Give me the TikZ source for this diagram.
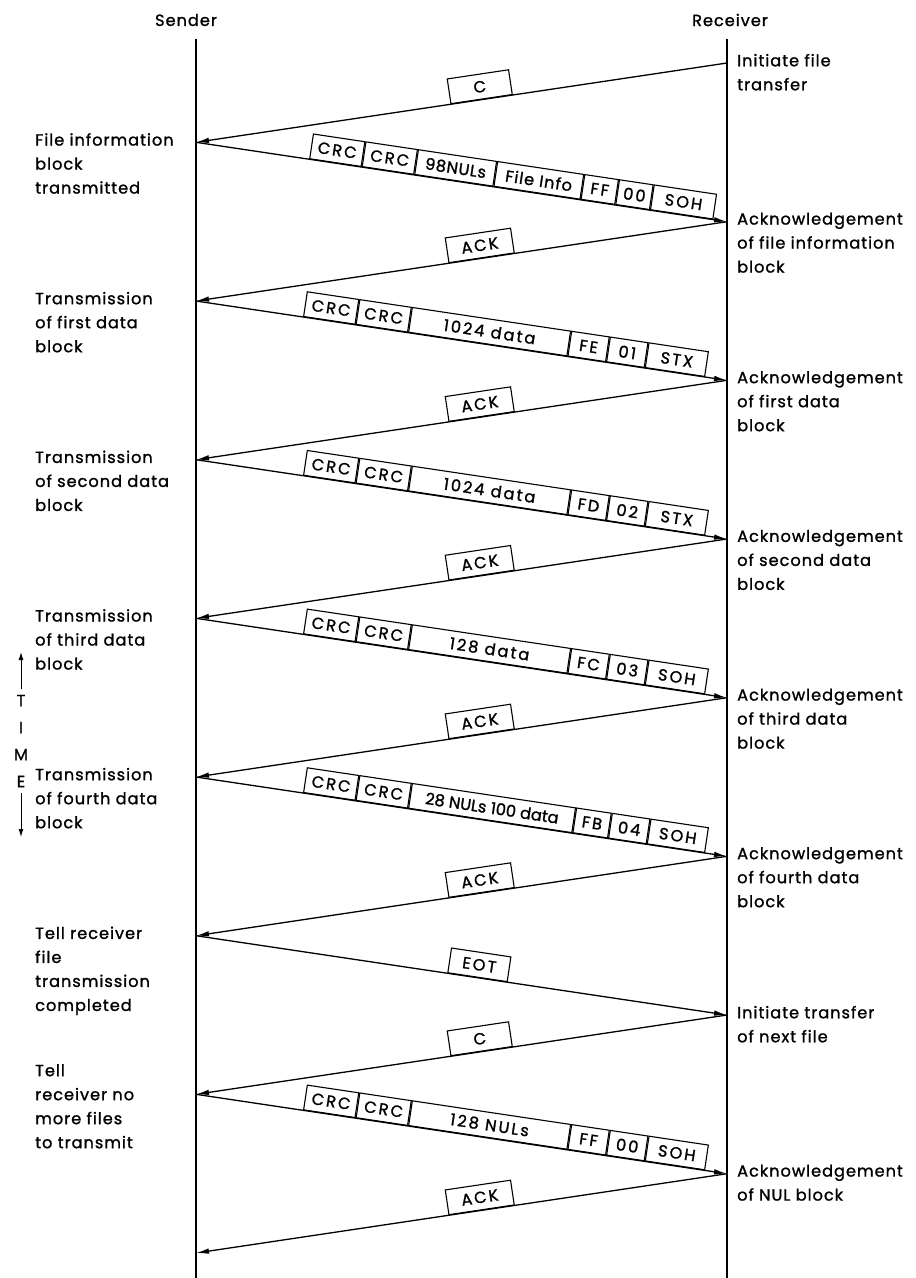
\documentclass[tikz,border=0pt]{standalone}
\usepackage{fontspec}
\setmainfont{Poppins}[LetterSpace=6, FakeBold=1.2]
\usetikzlibrary{arrows.meta,positioning}

\newcommand\notefont{\fontsize{16.2}{24}\selectfont}
\newcommand\fieldfont{\fontsize{16.2}{24}\selectfont\addfontfeature{LetterSpace=13}}
\def\tilt{8.5}

\tikzset{
  lifeline/.style={line width=1.8pt},
  msg/.style={line width=1.3pt, -{Latex[length=13pt,width=5.5pt]}},
  field/.style={draw, line width=1.1pt, minimum height=25pt, inner sep=0pt, font=\fieldfont},
  dfield/.style={field, rotate=-\tilt},
  head/.style={font=\notefont, inner sep=0pt},
  lnote/.style={font=\notefont, align=left, anchor=north west, inner sep=0pt,
    yshift=9.3pt, execute at begin node=\strut},
  rnote/.style={lnote, xshift=10pt},
  tarrow/.style={line width=1pt, -{Latex[length=8pt,width=5pt]}}
}

\begin{document}
\begin{tikzpicture}[x=1pt, y=-1pt]
  \useasboundingbox[fill=white] (0,0) rectangle (916,1278);

  \node[head] (sender) at (186,20) {Sender};
  \node[head] (receiver) at (730,20) {Receiver};

  % time lines
  \coordinate (stop) at (196,39);
  \coordinate (sbot) at (196,1278);
  \coordinate (rtop) at (727,39);
  \coordinate (rbot) at (727,1278);
  \draw[lifeline] (stop) -- (sbot);
  \draw[lifeline] (rtop) -- (rbot);

  % message points, one leg every 79.33
  \coordinate (r0) at (727,63);
  \coordinate (s1) at (196,142.3);
  \coordinate (r1) at (727,221.7);
  \coordinate (s2) at (196,301);
  \coordinate (r2) at (727,380.3);
  \coordinate (s3) at (196,459.7);
  \coordinate (r3) at (727,539);
  \coordinate (s4) at (196,618.3);
  \coordinate (r4) at (727,697.7);
  \coordinate (s5) at (196,777);
  \coordinate (r5) at (727,856.3);
  \coordinate (s6) at (196,935.7);
  \coordinate (r6) at (727,1015);
  \coordinate (s7) at (196,1094.3);
  \coordinate (r7) at (727,1173.7);
  \coordinate (s8) at (196,1253);

  % receiver -> sender
  \draw[msg] (r0) -- (s1) node[field, minimum width=62pt, pos=0.462, sloped, above] (k0) {C};
  \draw[msg] (r1) -- (s2) node[field, minimum width=66pt, pos=0.462, sloped, above] (k1) {ACK};
  \draw[msg] (r2) -- (s3) node[field, minimum width=66pt, pos=0.462, sloped, above] (k2) {ACK};
  \draw[msg] (r3) -- (s4) node[field, minimum width=66pt, pos=0.462, sloped, above] (k3) {ACK};
  \draw[msg] (r4) -- (s5) node[field, minimum width=66pt, pos=0.462, sloped, above] (k4) {ACK};
  \draw[msg] (r5) -- (s6) node[field, minimum width=66pt, pos=0.462, sloped, above] (k5) {ACK};
  \draw[msg] (r6) -- (s7) node[field, minimum width=62pt, pos=0.462, sloped, above] (k6) {C};
  \draw[msg] (r7) -- (s8) node[field, minimum width=66pt, pos=0.462, sloped, above] (k7) {ACK};

  % file information block
  \draw[msg] (s1) -- (r1) node[field, minimum width=52pt, pos=0.213, sloped, anchor=south west] (d1a) {CRC};
  \node[dfield, minimum width=52pt, right=0pt of d1a] (d1b) {CRC};
  \node[dfield, minimum width=79pt, right=0pt of d1b] (d1c) {\addfontfeature{LetterSpace=4}98NULs};
  \node[dfield, minimum width=87pt, right=0pt of d1c] (d1d) {\addfontfeature{LetterSpace=6}File Info};
  \node[dfield, minimum width=34pt, right=0pt of d1d] (d1e) {FF};
  \node[dfield, minimum width=34pt, right=0pt of d1e] (d1f) {00};
  \node[dfield, minimum width=63pt, right=0pt of d1f] (d1g) {SOH};

  % first data block
  \draw[msg] (s2) -- (r2) node[field, minimum width=52pt, pos=0.2015, sloped, anchor=south west] (d2a) {CRC};
  \node[dfield, minimum width=52pt, right=0pt of d2a] (d2b) {CRC};
  \node[dfield, minimum width=160pt, right=0pt of d2b] (d2c) {1024 data};
  \node[dfield, minimum width=38pt, right=0pt of d2c] (d2d) {FE};
  \node[dfield, minimum width=38pt, right=0pt of d2d] (d2e) {01};
  \node[dfield, minimum width=60pt, right=0pt of d2e] (d2f) {STX};

  % second data block
  \draw[msg] (s3) -- (r3) node[field, minimum width=52pt, pos=0.2015, sloped, anchor=south west] (d3a) {CRC};
  \node[dfield, minimum width=52pt, right=0pt of d3a] (d3b) {CRC};
  \node[dfield, minimum width=160pt, right=0pt of d3b] (d3c) {1024 data};
  \node[dfield, minimum width=38pt, right=0pt of d3c] (d3d) {FD};
  \node[dfield, minimum width=38pt, right=0pt of d3d] (d3e) {02};
  \node[dfield, minimum width=60pt, right=0pt of d3e] (d3f) {STX};

  % third data block
  \draw[msg] (s4) -- (r4) node[field, minimum width=52pt, pos=0.2015, sloped, anchor=south west] (d4a) {CRC};
  \node[dfield, minimum width=52pt, right=0pt of d4a] (d4b) {CRC};
  \node[dfield, minimum width=160pt, right=0pt of d4b] (d4c) {128 data};
  \node[dfield, minimum width=38pt, right=0pt of d4c] (d4d) {FC};
  \node[dfield, minimum width=38pt, right=0pt of d4d] (d4e) {03};
  \node[dfield, minimum width=60pt, right=0pt of d4e] (d4f) {SOH};

  % fourth data block
  \draw[msg] (s5) -- (r5) node[field, minimum width=52pt, pos=0.2015, sloped, anchor=south west] (d5a) {CRC};
  \node[dfield, minimum width=52pt, right=0pt of d5a] (d5b) {CRC};
  \node[dfield, minimum width=165pt, right=0pt of d5b] (d5c) {\addfontfeature{LetterSpace=0}28 NULs 100 data};
  \node[dfield, minimum width=35pt, right=0pt of d5c] (d5d) {FB};
  \node[dfield, minimum width=38pt, right=0pt of d5d] (d5e) {04};
  \node[dfield, minimum width=58pt, right=0pt of d5e] (d5f) {SOH};

  % end of file
  \draw[msg] (s6) -- (r6) node[field, minimum width=60pt, pos=0.53, sloped, above] (e1) {EOT};

  % null file name block
  \draw[msg] (s7) -- (r7) node[field, minimum width=52pt, pos=0.2015, sloped, anchor=south west] (d6a) {CRC};
  \node[dfield, minimum width=52pt, right=0pt of d6a] (d6b) {CRC};
  \node[dfield, minimum width=160pt, right=0pt of d6b] (d6c) {128 NULs};
  \node[dfield, minimum width=38pt, right=0pt of d6c] (d6d) {FF};
  \node[dfield, minimum width=38pt, right=0pt of d6d] (d6e) {00};
  \node[dfield, minimum width=60pt, right=0pt of d6e] (d6f) {SOH};

  % sender side notes
  \coordinate (lft) at (35,0);
  \node[lnote] (sn1) at (lft |- s1) {File information\\block\\transmitted};
  \node[lnote] (sn2) at (lft |- s2) {Transmission\\of first data\\block};
  \node[lnote] (sn3) at (lft |- s3) {Transmission\\of second data\\block};
  \node[lnote] (sn4) at (lft |- s4) {Transmission\\of third data\\block};
  \node[lnote] (sn5) at (lft |- s5) {Transmission\\of fourth data\\block};
  \node[lnote] (sn6) at (lft |- s6) {Tell receiver\\file\\transmission\\completed};
  \node[lnote, yshift=21pt] (sn7) at (lft |- s7) {Tell\\receiver no\\more files\\to transmit};

  % receiver side notes
  \node[rnote] (rn0) at (r0) {Initiate file\\transfer};
  \node[rnote] (rn1) at (r1) {Acknowledgement\\of file information\\block};
  \node[rnote] (rn2) at (r2) {Acknowledgement\\of first data\\block};
  \node[rnote] (rn3) at (r3) {Acknowledgement\\of second data\\block};
  \node[rnote] (rn4) at (r4) {Acknowledgement\\of third data\\block};
  \node[rnote] (rn5) at (r5) {Acknowledgement\\of fourth data\\block};
  \node[rnote] (rn6) at (r6) {Initiate transfer\\of next file};
  \node[rnote] (rn7) at (r7) {Acknowledgement\\of NUL block};

  % time axis
  \node[font=\fontsize{16.2}{27}\selectfont, align=center, inner sep=6pt] (time) at (21,741) {T\\I\\M\\E};
  \coordinate (tup) at (21,652);
  \coordinate (tdown) at (21,837);
  \draw[tarrow] (time.north) -- (tup);
  \draw[tarrow] (time.south) -- (tdown);
\end{tikzpicture}
\end{document}
